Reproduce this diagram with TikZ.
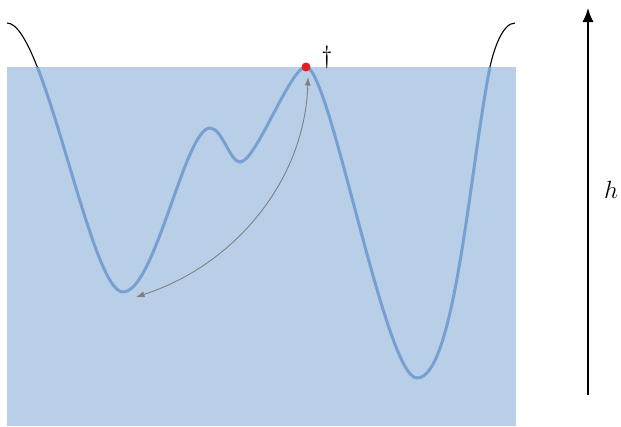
\documentclass[tikz,border=0pt]{standalone}
\usepackage{xcolor}
\usepackage{tikz}
\usetikzlibrary{arrows.meta,positioning}

\definecolor{basinblue}{RGB}{185,207,232}
\definecolor{curveblue}{RGB}{118,160,210}
\definecolor{saddlered}{RGB}{228,30,36}

% landscape, from extremum to extremum
\newcommand{\energycurve}{(7,23)
    .. controls (45,23) and (90,292) .. (123,292)
    .. controls (155,292) and (185,128) .. (210,128)
    .. controls (222,128) and (230,162) .. (240,162)
    .. controls (256,162) and (290,67) .. (306,67)
    .. controls (330,67) and (385,378) .. (417,378)
    .. controls (455,378) and (470,167) .. (490,67)
    .. controls (494,48) and (503,23) .. (515,23)}

\begin{document}
\begin{tikzpicture}[
        x=1pt, y=-1pt,
        every node/.style={font=\fontsize{28}{30}\selectfont},
        basin/.style={fill=basinblue, draw=none},
        dry/.style={black, line width=1.1pt},
        wet/.style={curveblue, line width=3pt},
        path/.style={{Latex[length=8.5pt,width=6pt]}-{Latex[length=8.5pt,width=6pt]}, gray, line width=0.9pt},
        axis/.style={-{Latex[length=14pt,width=11pt]}, line width=1.4pt},
        saddle/.style={circle, fill=saddlered, inner sep=0pt, minimum size=9pt}
    ]

        \useasboundingbox (0,0) rectangle (621,426);

        % water level
        \fill[basin] (7,67) rectangle (516,426);

        % black above the level, blue below
        \draw[dry] \energycurve;
        \begin{scope}
            \clip (7,67) rectangle (516,426);
            \draw[wet] \energycurve;
        \end{scope}

        \node[saddle] (ts) at (306,67) {};
        \node[font=\fontsize{32}{34}\selectfont] (dag) at (327,57) {$\dagger$};

        \coordinate (tsfoot) at (308,77);
        \coordinate (mina)   at (136,297);
        \draw[path] (tsfoot) .. controls (305,180) and (235,265) .. (mina);

        % height axis
        \coordinate (hbot) at (588,395);
        \coordinate (htop) at (588,8);
        \draw[axis] (hbot) -- (htop)
            node[right=12pt, pos=0.53] (hlab) {$h$};

    \end{tikzpicture}
\end{document}
